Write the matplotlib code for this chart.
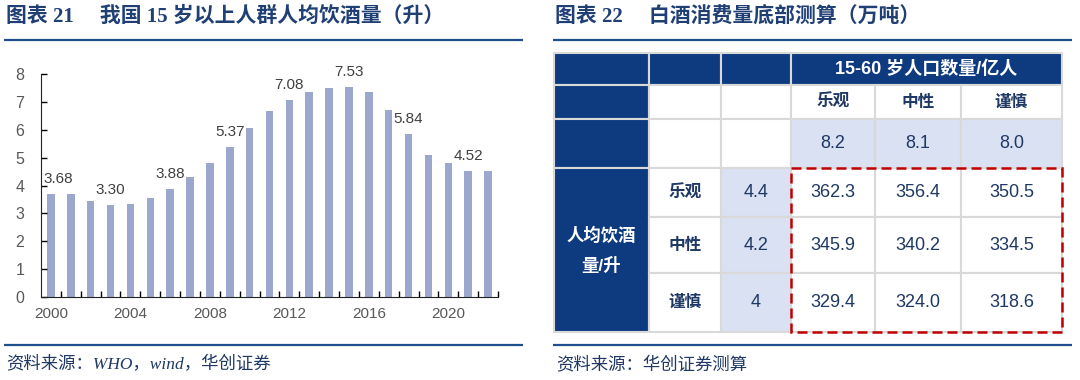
import matplotlib
matplotlib.use("Agg")
import matplotlib.pyplot as plt
from matplotlib.patches import Rectangle

plt.rcParams['font.family'] = ['Liberation Sans', 'Noto Sans CJK SC', 'DejaVu Sans']

# Left chart: per-capita alcohol consumption, age 15+ (liters)
years = list(range(2000, 2023))
liters = [3.68, 3.69, 3.44, 3.30, 3.32, 3.54, 3.88, 4.31, 4.81, 5.37, 6.05, 6.67,
          7.08, 7.35, 7.48, 7.53, 7.37, 6.70, 5.84, 5.11, 4.79, 4.52, 4.52]
labeled_years = [2000, 2003, 2006, 2009, 2012, 2015, 2018, 2021]
year_ticks = [2000, 2004, 2008, 2012, 2016, 2020]

# Right table: baijiu consumption floor estimate (10k tons)
scenarios = ['乐观', '中性', '谨慎']
population = ['8.2', '8.1', '8.0']
per_capita = ['4.4', '4.2', '4']
volumes = [['362.3', '356.4', '350.5'],
           ['345.9', '340.2', '334.5'],
           ['329.4', '324.0', '318.6']]

title_left = "图表 21\u3000 我国 15 岁以上人群人均饮酒量（升）"
title_right = "图表 22\u3000 白酒消费量底部测算（万吨）"
source_left = "资料来源：WHO，wind，华创证券"
source_right = "资料来源：华创证券测算"

NAVY = '#0E3B80'
LIGHT = '#D9E1F2'
TXT = '#1F3864'
LINE = '#1F4E8C'
GRID = '#D9D9D9'

W, H = 1080, 380
fig = plt.figure(figsize=(W / 100, H / 100), dpi=100)

# bar chart
ax = fig.add_axes([41 / W, 1 - 297 / H, 457 / W, 223 / H])
ax.bar(years, liters, width=0.38, color='#9BA7CC')
ax.set_xlim(years[0] - 0.5, years[-1] + 0.5)
ax.set_ylim(0, 8)
ax.set_yticks(range(0, 9))
ax.set_xticks(year_ticks)
ax.set_xticks([y + 0.5 for y in years], minor=True)
ax.tick_params(axis='x', which='major', length=0, pad=7, labelsize=11, labelcolor='#595959')
ax.tick_params(axis='x', which='minor', direction='in', length=4, width=1)
ax.tick_params(axis='y', direction='in', length=4, width=1, pad=12, labelsize=11.5, labelcolor='#595959')
for s in ['top', 'right']:
    ax.spines[s].set_visible(False)
for s in ['left', 'bottom']:
    ax.spines[s].set_color('#222222')

for yr, v in zip(years, liters):
    if yr in labeled_years:
        dx = 5 if yr == years[0] else 0
        ax.annotate(f"{v:.2f}", (yr, v), xytext=(dx, 8), textcoords='offset points',
                    ha='center', va='baseline', fontsize=11, color='#404040')

# overlay in pixel coordinates for titles, rules and the table
ov = fig.add_axes([0, 0, 1, 1])
ov.set_xlim(0, W)
ov.set_ylim(H, 0)
ov.axis('off')

title_font = ['Liberation Serif', 'Noto Sans CJK SC']
ov.text(6, 17, title_left, va='center', ha='left', fontsize=15, fontweight='bold',
        color='#1F3F75', family=title_font)
ov.text(555, 17, title_right, va='center', ha='left', fontsize=15, fontweight='bold',
        color='#1F3F75', family=title_font)
for x0, x1 in [(4, 523), (553, 1072)]:
    ov.plot([x0, x1], [39.5, 39.5], color=LINE, lw=1.6, solid_capstyle='butt')
    ov.plot([x0, x1], [345, 345], color=LINE, lw=1.6, solid_capstyle='butt')
src_font = ['Liberation Serif', 'Noto Sans CJK SC']
ov.text(6, 365, source_left, va='center', fontsize=12.5, style='italic', color=TXT, family=src_font)
ov.text(556, 365, source_right, va='center', fontsize=12.5, style='italic', color=TXT, family=src_font)

col_edges = [554, 649, 721, 791, 875, 961, 1062]
row_edges = [53, 85, 119, 168, 217, 273, 332]


def cell(r0, r1, c0, c1, color):
    x0, x1 = col_edges[c0], col_edges[c1]
    y0, y1 = row_edges[r0], row_edges[r1]
    ov.add_patch(Rectangle((x0, y0), x1 - x0, y1 - y0, facecolor=color,
                           edgecolor=GRID, lw=1.5))
    return (x0 + x1) / 2, (y0 + y1) / 2


# first column
for r in range(3):
    cell(r, r + 1, 0, 1, NAVY)
cx, cy = cell(3, 6, 0, 1, NAVY)
ov.text(cx, cy, "人均饮酒\n量/升", ha='center', va='center', color='white',
        fontsize=12.5, fontweight='bold', linespacing=1.9)

# header row
cell(0, 1, 1, 2, NAVY)
cell(0, 1, 2, 3, NAVY)
cx, cy = cell(0, 1, 3, 6, NAVY)
ov.text(cx, cy, "15-60 岁人口数量/亿人", ha='center', va='center', color='white',
        fontsize=13, fontweight='bold')

for r in (1, 2):
    cell(r, r + 1, 1, 2, 'white')
    cell(r, r + 1, 2, 3, 'white')

for j in range(3):
    cx, cy = cell(1, 2, 3 + j, 4 + j, 'white')
    ov.text(cx, cy, scenarios[j], ha='center', va='center', color=TXT,
            fontsize=12, fontweight='bold')
    cx, cy = cell(2, 3, 3 + j, 4 + j, LIGHT)
    ov.text(cx, cy, population[j], ha='center', va='center', color=TXT, fontsize=13)

for i in range(3):
    cx, cy = cell(3 + i, 4 + i, 1, 2, 'white')
    ov.text(cx, cy, scenarios[i], ha='center', va='center', color=TXT,
            fontsize=12, fontweight='bold')
    cx, cy = cell(3 + i, 4 + i, 2, 3, LIGHT)
    ov.text(cx, cy, per_capita[i], ha='center', va='center', color=TXT, fontsize=13)
    for j in range(3):
        cx, cy = cell(3 + i, 4 + i, 3 + j, 4 + j, 'white')
        ov.text(cx, cy, volumes[i][j], ha='center', va='center', color=TXT, fontsize=13)

ov.add_patch(Rectangle((col_edges[3], row_edges[3]), col_edges[6] - col_edges[3],
                       row_edges[6] - row_edges[3], fill=False, edgecolor='#C00000',
                       lw=1.8, ls=(0, (4, 2)), zorder=5))

fig.savefig("out.png", dpi=100)
